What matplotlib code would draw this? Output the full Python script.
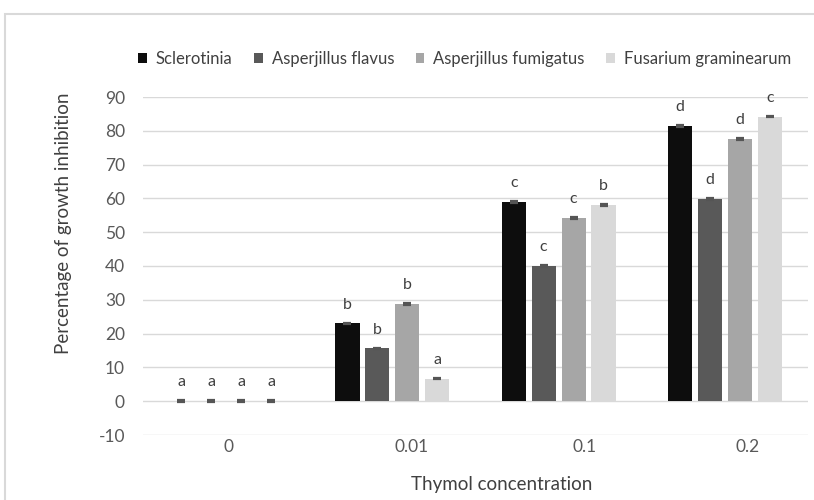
import matplotlib
matplotlib.use("Agg")
import matplotlib.pyplot as plt
from matplotlib.patches import Rectangle
import numpy as np

plt.rcParams["font.family"] = ["Lato", "DejaVu Sans"]
plt.rcParams["axes.unicode_minus"] = False

concentrations = ["0", "0.01", "0.1", "0.2"]
species = ["Sclerotinia", "Asperjillus flavus", "Asperjillus fumigatus", "Fusarium graminearum"]
sclerotinia = [0, 23.0, 59.0, 81.4]
flavus = [0, 15.6, 40.0, 59.8]
fumigatus = [0, 28.7, 54.3, 77.5]
fusarium = [0, 6.7, 58.0, 84.2]
errors = [0.25, 0.25, 0.25, 0.25]
letters = [
    ["a", "b", "c", "d"],
    ["a", "b", "c", "d"],
    ["a", "b", "c", "d"],
    ["a", "a", "b", "c"],
]
# tick labels in the source sit a bit right of the bar groups
tick_pos = [0.012, 1.118, 2.159, 3.139]

colors = ["#0d0d0d", "#595959", "#a6a6a6", "#d9d9d9"]
TEXT = "#595959"
GRID = "#d9d9d9"

fig = plt.figure(figsize=(8.14, 5.0), dpi=100)
fig.patch.set_facecolor("white")
fig.add_artist(Rectangle((5 / 814, -0.1), 1.1, 1 - 14 / 500 + 0.1, transform=fig.transFigure,
                         fill=False, edgecolor="#d9d9d9", linewidth=1.5))

ax = fig.add_axes([143 / 814, 65 / 500, 665 / 814, 338 / 500])
x = np.arange(len(concentrations))
width = 0.145
pitch = 0.18
series = [sclerotinia, flavus, fumigatus, fusarium]
for i, (name, vals, col) in enumerate(zip(species, series, colors)):
    xs = x + (i - 1.5) * pitch
    ax.bar(xs, vals, width, color=col, label=name, zorder=3)
    ax.errorbar(xs, vals, yerr=errors, fmt="none", ecolor="#555555", elinewidth=1,
                capsize=3, capthick=1.6, zorder=4)
    for xi, v, lab in zip(xs, vals, letters[i]):
        ax.annotate(lab, (xi, v), xytext=(0, 13.5), textcoords="offset points",
                    ha="center", va="center", fontsize=11.5, color="#404040")

ax.set_xlim(-0.5, 3.5)
ax.set_ylim(-10, 90)
ax.set_yticks(range(-10, 91, 10))
ax.set_xticks(tick_pos)
ax.set_xticklabels(concentrations)
ax.tick_params(axis="both", length=0, colors=TEXT, labelsize=12.5)
ax.tick_params(axis="y", pad=13)
ax.tick_params(axis="x", pad=3)
ax.grid(axis="y", color=GRID, linewidth=1, zorder=0)
for s in ax.spines.values():
    s.set_visible(False)

ax.set_ylabel("Percentage of growth inhibition", fontsize=13.5, color="#404040")
ax.yaxis.set_label_coords(-0.107, 0.627)
ax.set_xlabel("Thymol concentration", fontsize=13.5, color="#404040")
ax.xaxis.set_label_coords(0.54, -0.12)

fig.legend(loc="center", bbox_to_anchor=(0.571, 0.882), ncol=4, frameon=False,
           fontsize=12, handlelength=0.5, handleheight=0.55, handletextpad=0.55,
           columnspacing=1.3, labelcolor="#404040")

fig.savefig("out.png", dpi=100, facecolor="white")
